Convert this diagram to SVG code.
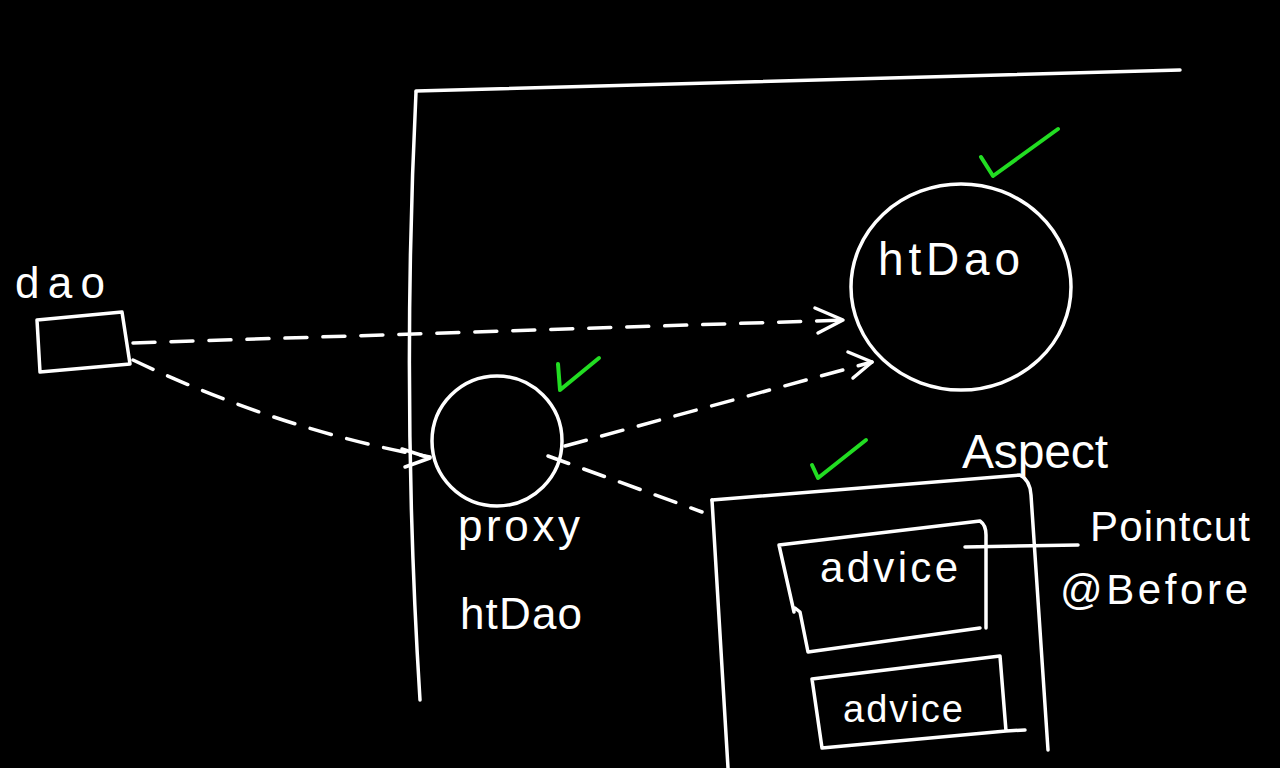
<svg xmlns="http://www.w3.org/2000/svg" width="1280" height="768" viewBox="0 0 1280 768">
<defs>
<style>
.s{fill:none;stroke:#fff;stroke-width:3.5;stroke-linecap:round;stroke-linejoin:round}
.d{fill:none;stroke:#fff;stroke-width:3.5;stroke-linecap:round;stroke-dasharray:22 16}
.g{fill:none;stroke:#22dd22;stroke-width:4;stroke-linecap:round;stroke-linejoin:round}
.t{fill:#fff;font-family:"Liberation Sans","DejaVu Sans",sans-serif;font-weight:normal}
</style>
</defs>
<rect width="1280" height="768" fill="#000"/>
<g id="frame">
<path class="s" d="M416,92 Q401,400 420,700"/>
<path class="s" d="M416,91 L1180,70"/>
</g>
<g id="dao">
<path class="s" d="M37,320 L122,312 L130,364 L40,372 Z"/>
<text class="t" x="15" y="298" font-size="44" textLength="90" lengthAdjust="spacing">dao</text>
</g>
<g id="htDao-target">
<ellipse class="s" cx="961" cy="287" rx="110" ry="103"/>
<text class="t" x="878" y="275" font-size="46" textLength="142" lengthAdjust="spacing">htDao</text>
<path class="g" d="M981,157 L993,176 L1058,129"/>
</g>
<g id="proxy">
<circle class="s" cx="497" cy="441" r="65"/>
<path class="g" d="M558,364 L560,390 L599,358"/>
<text class="t" x="458" y="541" font-size="44" textLength="122" lengthAdjust="spacing">proxy</text>
<text class="t" x="460" y="629" font-size="44" textLength="122" lengthAdjust="spacing">htDao</text>
</g>
<g id="aspect">
<text class="t" x="962" y="468" font-size="48" textLength="146" lengthAdjust="spacing">Aspect</text>
<path class="g" d="M812,465 L818,478 L866,440"/>
<path class="s" d="M712,500 L1020,475 Q1030,480 1031,495 L1048,750"/>
<path class="s" d="M712,500 L728,768"/>
</g>
<g id="advice1">
<path class="s" d="M779,545 L980,521 Q986,525 986,535 L986,628 M980,628 L808,652 L800,612 L795,608 M779,545 L794,612"/>
<text class="t" x="820" y="582" font-size="42" textLength="138" lengthAdjust="spacing">advice</text>
</g>
<g id="advice2">
<path class="s" d="M812,679 L1000,656 L1006,731 L822,748 Z M1006,731 L1025,730"/>
<text class="t" x="843" y="722" font-size="38" textLength="120" lengthAdjust="spacing">advice</text>
</g>
<g id="pointcut">
<text class="t" x="1090" y="541" font-size="42" textLength="160" lengthAdjust="spacing">Pointcut</text>
<text class="t" x="1060" y="604" font-size="42" textLength="188" lengthAdjust="spacing">@Before</text>
</g>
<g id="connectors">
<path class="d" d="M133,343 L845,320"/>
<path class="s" d="M815,308 L843,320 L818,333"/>
<path class="d" d="M133,360 Q280,430 430,457"/>
<path class="s" d="M402,449 L430,458 L405,467"/>
<path class="d" d="M565,446 L872,362"/>
<path class="s" d="M848,352 L872,362 L853,378"/>
<path class="d" d="M548,456 L702,512"/>
<path class="s" d="M965,547 L1078,545"/>
</g>
</svg>
